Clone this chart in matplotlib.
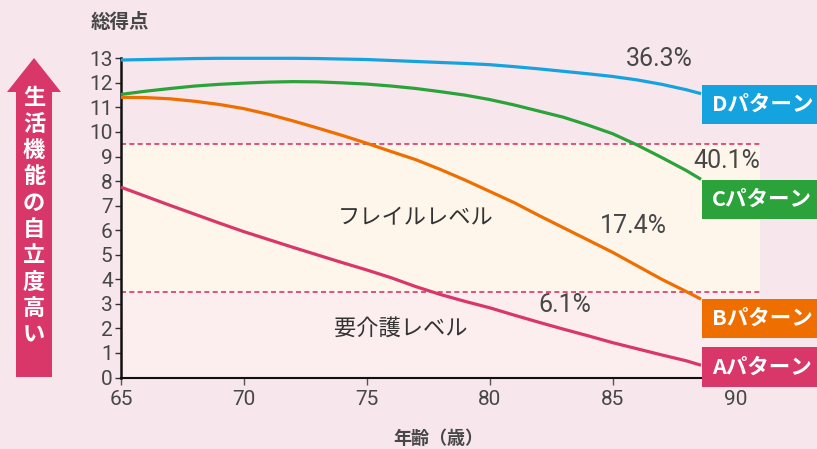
import numpy as np
import matplotlib
matplotlib.use('Agg')
import matplotlib.pyplot as plt
from matplotlib.patches import Polygon, Rectangle

plt.rcParams['font.family'] = ['Roboto', 'Noto Sans CJK JP', 'DejaVu Sans']

# data
ages = [65, 66, 67, 68, 69, 70, 71, 72, 73, 74, 75, 76, 77, 78, 79, 80,
        81, 82, 83, 84, 85, 86, 87, 88, 88.6]
score_d = [12.93, 12.95, 12.97, 12.99, 13.0, 13.0, 13.0, 13.0, 12.99, 12.97, 12.95, 12.91, 12.87,
           12.83, 12.79, 12.74, 12.66, 12.57, 12.47, 12.37, 12.26, 12.12, 11.94, 11.72, 11.56]
score_c = [11.53, 11.66, 11.77, 11.87, 11.94, 11.99, 12.03, 12.05, 12.04, 12.0, 11.95, 11.87, 11.77,
           11.64, 11.5, 11.32, 11.1, 10.85, 10.6, 10.28, 9.93, 9.47, 8.96, 8.43, 8.07]
score_b = [11.41, 11.4, 11.35, 11.25, 11.12, 10.95, 10.72, 10.45, 10.16, 9.86, 9.54, 9.2, 8.87,
           8.47, 8.04, 7.58, 7.12, 6.6, 6.1, 5.6, 5.1, 4.55, 4.0, 3.5, 3.19]
score_a = [7.75, 7.38, 7.01, 6.65, 6.29, 5.94, 5.62, 5.3, 4.99, 4.68, 4.38, 4.06, 3.7,
           3.38, 3.1, 2.84, 2.54, 2.25, 1.97, 1.7, 1.42, 1.17, 0.92, 0.68, 0.5]

pattern_names = ['Dパターン', 'Cパターン', 'Bパターン', 'Aパターン']
pct_labels = ['36.3%', '40.1%', '17.4%', '6.1%']
frail_upper = 9.5
frail_lower = 3.5
xticks = [65, 70, 75, 80, 85, 90]
yticks = list(range(0, 14))
arrow_text = '生活機能の自立度高い'

bg = '#F7E6EC'
cream = '#FEF6EB'
lowpink = '#FCEDEF'
blue = '#15A3DF'
green = '#2CA23A'
orange = '#EE6F00'
pink = '#D9366A'
txt = '#474747'
jp = 'Noto Sans CJK JP'

W, H = 817, 449
fig = plt.figure(figsize=(W / 100, H / 100), dpi=100, facecolor=bg)
ax = fig.add_axes([121 / W, 1 - 377.5 / H, (760 - 121) / W, (377.5 - 58.3) / H])
ax.set_facecolor(bg)
ax.set_xlim(65, 91)
ax.set_ylim(0, 13)

# level bands
ax.axhspan(frail_lower, frail_upper, color=cream, zorder=0, lw=0)
ax.axhspan(0, frail_lower, color=lowpink, zorder=0, lw=0)
ax.axhline(frail_upper, color=pink, lw=1.2, ls=(0, (3, 2)), zorder=1)
ax.axhline(frail_lower, color=pink, lw=1.2, ls=(0, (3, 2)), zorder=1)

for s, c in zip([score_d, score_c, score_b, score_a], [blue, green, orange, pink]):
    ax.plot(ages, s, color=c, lw=2.3, clip_on=False, zorder=3, solid_capstyle='butt',
            solid_joinstyle='round')

ax.spines['top'].set_visible(False)
ax.spines['right'].set_visible(False)
ax.spines['left'].set_linewidth(1.8)
ax.spines['bottom'].set_linewidth(1.5)
ax.spines['left'].set_color('#111111')
ax.spines['bottom'].set_color('#111111')
ax.set_xticks(xticks)
ax.set_yticks(yticks)
ax.tick_params(axis='y', length=4.5, width=1.0, color='#333333', pad=1.5, labelsize=15, labelcolor=txt)
ax.tick_params(axis='x', length=5, width=1.0, color='#555555', pad=4, labelsize=15, labelcolor=txt)

# level captions and percentages
ax.text(77.0, 6.5, 'フレイルレベル', family=jp, fontsize=16, color='#333333', ha='center', va='center')
ax.text(76.4, 2.02, '要介護レベル', family=jp, fontsize=16, color='#333333', ha='center', va='center')
pct_pos = [(86.9, 12.97), (89.63, 8.82), (85.85, 6.17), (83.05, 2.95)]
for lab, (px, py) in zip(pct_labels, pct_pos):
    ax.text(px, py, lab, fontsize=18, color=txt, ha='center', va='center', clip_on=False)

# pattern boxes
box_y = [(85, 124), (180, 219), (299, 338), (347, 387)]
for name, (y0, y1), c in zip(pattern_names, box_y, [blue, green, orange, pink]):
    fig.patches.append(Rectangle((702 / W, 1 - y1 / H), (W - 702) / W, (y1 - y0) / H,
                                 transform=fig.transFigure, facecolor=c, edgecolor='none', zorder=5))
    fig.text(712 / W, 1 - (y0 + y1) / 2 / H, name, family=jp, fontsize=15.5, fontweight='bold',
             color='white', ha='left', va='center', zorder=6)

# arrow on the left
arrow_px = [(16, 377), (16, 92), (7, 92), (34, 58), (61, 92), (52, 92), (52, 377)]
fig.patches.append(Polygon([(x / W, 1 - y / H) for x, y in arrow_px], closed=True,
                           transform=fig.transFigure, facecolor=pink, edgecolor='none'))
for i, ch in enumerate(arrow_text):
    fig.text(34 / W, 1 - (98 + i * 26.3) / H, ch, family=jp, fontsize=16, fontweight='bold',
             color='white', ha='center', va='center')

fig.text(120 / W, 1 - 22 / H, '総得点', family=jp, fontsize=14, fontweight='bold', color=txt,
         ha='center', va='center')
fig.text(438 / W, 1 - 438 / H, '年齢（歳）', family=jp, fontsize=13, fontweight='bold', color=txt,
         ha='center', va='center')

fig.savefig('out.png', dpi=100, facecolor=bg)
